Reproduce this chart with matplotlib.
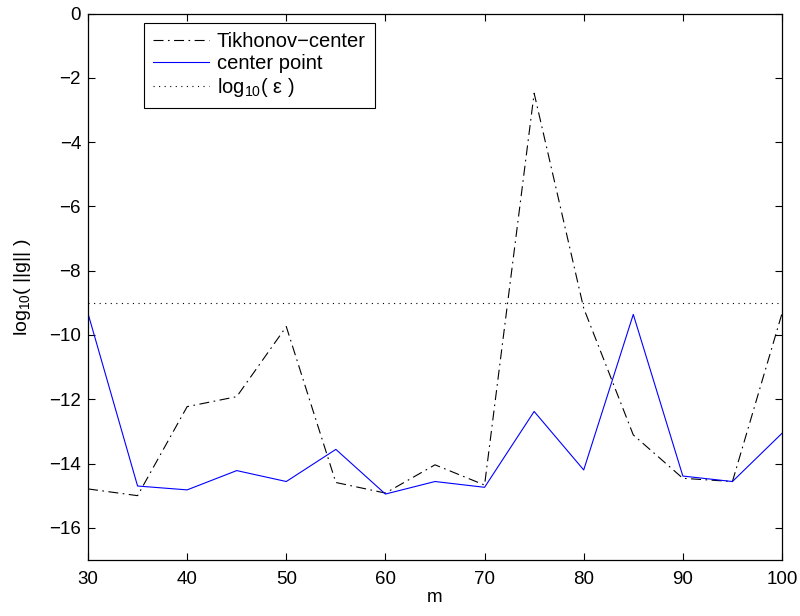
import matplotlib
matplotlib.use("Agg")
import matplotlib.pyplot as plt

plt.rcParams['font.family'] = ['Liberation Sans', 'DejaVu Sans']
plt.rcParams['mathtext.fontset'] = 'custom'
plt.rcParams['mathtext.rm'] = 'Liberation Sans'
plt.rcParams['mathtext.it'] = 'Liberation Sans'

m = [30, 35, 40, 45, 50, 55, 60, 65, 70, 75, 80, 85, 90, 95, 100]
tikhonov_center = [-14.79, -15.00, -12.23, -11.92, -9.74, -14.59, -14.92, -14.04,
                   -14.67, -2.48, -9.17, -13.11, -14.46, -14.56, -9.33]
center_point = [-9.33, -14.70, -14.82, -14.22, -14.56, -13.56, -14.95, -14.56,
                -14.74, -12.38, -14.20, -9.36, -14.39, -14.56, -13.06]
log_eps = -9.0

fig = plt.figure(figsize=(8.0, 6.16), dpi=100)
ax = fig.add_axes([0.11, 0.091, 0.8675, 0.887])

ax.plot(m, tikhonov_center, color='black', lw=0.8, linestyle=(0, (9, 4, 1.5, 4)),
        label='Tikhonov\u2212center')
ax.plot(m, center_point, color='blue', lw=0.8, label='center point')
ax.plot([m[0], m[-1]], [log_eps, log_eps], color='black', lw=0.8,
        linestyle=(0, (1, 4)), label=r'log$_{10}$( $\epsilon$ )')

ax.set_xlim(30, 100)
ax.set_ylim(-17, 0)
ax.set_xticks(range(30, 101, 10))
ax.set_yticks(range(-16, 1, 2))
ax.set_yticklabels(['\u2212%d' % -v if v < 0 else '%d' % v for v in range(-16, 1, 2)])
ax.tick_params(direction='in', top=True, right=True, labelsize=13.5, length=5, width=0.8)
ax.tick_params(axis='x', pad=8)
ax.tick_params(axis='y', pad=5)
for s in ax.spines.values():
    s.set_linewidth(0.9)

ax.set_xlabel('m', fontsize=13.5, labelpad=1)
ax.set_ylabel(r'log$_{10}$( ||g|| )', fontsize=14, labelpad=12)

leg = ax.legend(loc='upper left', bbox_to_anchor=(0.0807, 0.9835), borderaxespad=0,
                fontsize=14.5, handlelength=2.8, handletextpad=0.35, borderpad=0.45,
                labelspacing=0.15, frameon=True, fancybox=False, edgecolor='black',
                framealpha=1)
leg.get_frame().set_linewidth(0.8)

fig.savefig('out.png', dpi=100)
